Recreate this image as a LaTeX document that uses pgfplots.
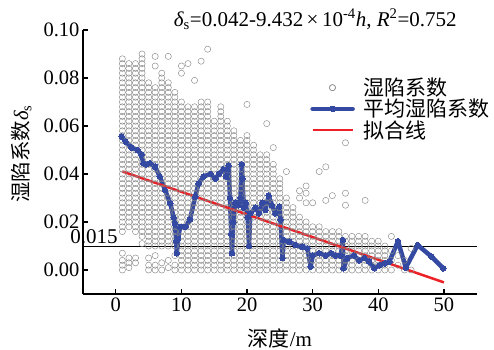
\documentclass[border=0pt]{standalone}
\usepackage{pgfplots}
\pgfplotsset{compat=1.18}
\usepackage{fontspec}
\setmainfont{Liberation Serif}
\newfontfamily\cjk{Noto Sans CJK SC}
\definecolor{meanblue}{RGB}{52,74,162}
\definecolor{fitred}{RGB}{236,32,38}
\definecolor{ptgray}{RGB}{135,135,135}
\begin{document}
\begin{tikzpicture}[font=\fontsize{20bp}{24bp}\selectfont]
\begin{axis}[
  at={(0,0)}, anchor=south west,
  scale only axis, width=393.7bp, height=264bp,
  xmin=-5, xmax=55, ymin=-0.01, ymax=0.10,
  axis x line=bottom, axis y line=left,
  axis line style={line width=1.3pt, -},
  clip=false,
  xtick={0,10,20,30,40,50},
  ytick={0,0.02,0.04,0.06,0.08,0.1},
  scaled y ticks=false,
  tick align=inside, major tick length=5bp,
  tick style={line width=1.3pt, black},
  tick label style={font=\fontsize{20.5bp}{24bp}\selectfont},
  xticklabel style={/pgf/number format/assume math mode=true},
  yticklabel style={/pgf/number format/.cd, fixed, fixed zerofill, precision=2, assume math mode=true},
  ylabel={{\cjk 湿陷系数}{\itshape δ}\textsubscript{s}},
  ylabel style={at={(rel axis cs:-0.157,0.53)}, anchor=center, font=\fontsize{20.5bp}{24bp}\selectfont},
  xlabel={{\cjk 深度}/m},
  xlabel style={at={(rel axis cs:0.5,-0.167)}, anchor=center, font=\fontsize{21bp}{24bp}\selectfont},
  legend image code/.code={\draw[mark repeat=2,mark phase=2,#1] plot coordinates {(0bp,0bp) (20bp,0bp) (40bp,0bp)};},
  legend style={draw=none, fill=none, at={(rel axis cs:0.577,0.826)}, anchor=north west, font=\cjk\fontsize{21bp}{21bp}\selectfont, row sep=-2bp, inner sep=0pt, cells={anchor=west}, /tikz/every odd column/.append style={column sep=7bp}},
]
\addplot[only marks, mark=o, mark size=3.1bp, ptgray, mark options={line width=0.45pt}] coordinates {
(1,0)(1,.002)(1,.004)(1,.007)(1,.016)(1,.018)(1,.02)(1,.022)(1,.024)(1,.026)(1,.028)(1,.03)(1,.032)(1,.034)(1,.036)(1,.038)(1,.04)(1,.042)(1,.044)(1,.046)(1,.048)(1,.05)(1,.052)(1,.054)(1,.056)(1,.058)(1,.06)(1,.062)(1,.064)(1,.066)(1,.068)(1,.07)(1,.072)(1,.074)(1,.076)(1,.078)(1,.08)(1,.082)(1,.084)(1,.086)(1,.088)
(2,.001)(2,.003)(2,.005)(2,.018)(2,.02)(2,.022)(2,.024)(2,.026)(2,.028)(2,.03)(2,.032)(2,.034)(2,.036)(2,.038)(2,.04)(2,.042)(2,.044)(2,.046)(2,.048)(2,.05)(2,.052)(2,.054)(2,.056)(2,.058)(2,.06)(2,.062)(2,.064)(2,.066)(2,.068)(2,.07)(2,.072)(2,.074)(2,.076)(2,.078)(2,.08)(2,.082)(2,.084)(2,.086)
(3,.003)(3,.005)(3,.016)(3,.018)(3,.02)(3,.022)(3,.024)(3,.026)(3,.028)(3,.03)(3,.032)(3,.034)(3,.036)(3,.038)(3,.04)(3,.042)(3,.044)(3,.046)(3,.048)(3,.05)(3,.052)(3,.054)(3,.056)(3,.058)(3,.06)(3,.062)(3,.064)(3,.066)(3,.068)(3,.07)(3,.072)(3,.074)(3,.076)(3,.078)(3,.08)(3,.082)(3,.084)(3,.086)
(4,.011)(4,.014)(4,.016)(4,.018)(4,.02)(4,.022)(4,.024)(4,.026)(4,.028)(4,.03)(4,.032)(4,.034)(4,.036)(4,.038)(4,.04)(4,.042)(4,.044)(4,.046)(4,.048)(4,.05)(4,.052)(4,.054)(4,.056)(4,.058)(4,.06)(4,.062)(4,.064)(4,.066)(4,.068)(4,.07)(4,.072)(4,.074)(4,.076)(4,.078)(4,.08)(4,.082)(4,.084)(4,.086)(4,.088)(4,.09)
(5,0)(5,.002)(5,.005)(5,.01)(5,.012)(5,.014)(5,.016)(5,.018)(5,.02)(5,.022)(5,.024)(5,.026)(5,.028)(5,.03)(5,.032)(5,.034)(5,.036)(5,.038)(5,.04)(5,.042)(5,.044)(5,.046)(5,.048)(5,.05)(5,.052)(5,.054)(5,.056)(5,.058)(5,.06)(5,.062)(5,.064)(5,.066)(5,.068)(5,.07)(5,.072)(5,.074)(5,.076)(5,.078)
(6,0)(6,.002)(6,.006)(6,.01)(6,.012)(6,.014)(6,.016)(6,.018)(6,.02)(6,.022)(6,.024)(6,.026)(6,.028)(6,.03)(6,.032)(6,.034)(6,.036)(6,.038)(6,.04)(6,.042)(6,.044)(6,.046)(6,.048)(6,.05)(6,.052)(6,.054)(6,.056)(6,.058)(6,.06)(6,.062)(6,.064)(6,.066)(6,.068)(6,.07)(6,.072)(6,.074)(6,.076)(6,.085)(6,.089)
(7,0)(7,.003)(7,.01)(7,.012)(7,.014)(7,.016)(7,.018)(7,.02)(7,.022)(7,.024)(7,.026)(7,.028)(7,.03)(7,.032)(7,.034)(7,.036)(7,.038)(7,.04)(7,.042)(7,.044)(7,.046)(7,.048)(7,.05)(7,.052)(7,.054)(7,.056)(7,.058)(7,.06)(7,.062)(7,.064)(7,.066)(7,.068)(7,.07)(7,.072)(7,.074)(7,.076)(7,.078)(7,.08)(7,.082)
(8,.001)(8,.004)(8,.01)(8,.012)(8,.014)(8,.016)(8,.018)(8,.02)(8,.022)(8,.024)(8,.026)(8,.028)(8,.03)(8,.032)(8,.034)(8,.036)(8,.038)(8,.04)(8,.042)(8,.044)(8,.046)(8,.048)(8,.05)(8,.052)(8,.054)(8,.056)(8,.058)(8,.06)(8,.062)(8,.064)(8,.066)(8,.068)(8,.07)(8,.072)(8,.074)(8,.076)(8,.078)(8,.089)
(9,0)(9,.002)(9,.006)(9,.01)(9,.012)(9,.014)(9,.016)(9,.018)(9,.02)(9,.022)(9,.024)(9,.026)(9,.028)(9,.03)(9,.032)(9,.034)(9,.036)(9,.038)(9,.04)(9,.042)(9,.044)(9,.046)(9,.048)(9,.05)(9,.052)(9,.054)(9,.056)(9,.058)(9,.06)(9,.062)(9,.064)(9,.066)(9,.068)(9,.07)(9,.072)(9,.074)
(10,0)(10,.002)(10,.004)(10,.006)(10,.008)(10,.01)(10,.012)(10,.014)(10,.016)(10,.018)(10,.02)(10,.022)(10,.024)(10,.026)(10,.028)(10,.03)(10,.032)(10,.034)(10,.036)(10,.038)(10,.04)(10,.042)(10,.044)(10,.046)(10,.048)(10,.05)(10,.052)(10,.054)(10,.056)(10,.058)(10,.06)(10,.062)(10,.064)(10,.066)(10,.068)(10,.07)(10,.082)(10,.085)
(11,0)(11,.002)(11,.004)(11,.006)(11,.008)(11,.01)(11,.012)(11,.014)(11,.016)(11,.018)(11,.02)(11,.022)(11,.024)(11,.026)(11,.028)(11,.03)(11,.032)(11,.034)(11,.036)(11,.038)(11,.04)(11,.042)(11,.044)(11,.046)(11,.048)(11,.05)(11,.052)(11,.054)(11,.056)(11,.058)(11,.06)(11,.062)(11,.064)(11,.066)(11,.068)(11,.086)
(12,0)(12,.002)(12,.004)(12,.006)(12,.008)(12,.01)(12,.012)(12,.014)(12,.016)(12,.018)(12,.02)(12,.022)(12,.024)(12,.026)(12,.028)(12,.03)(12,.032)(12,.034)(12,.036)(12,.038)(12,.04)(12,.042)(12,.044)(12,.046)(12,.048)(12,.05)(12,.052)(12,.054)(12,.056)(12,.058)(12,.06)(12,.062)(12,.064)(12,.066)(12,.068)(12,.079)
(13,0)(13,.002)(13,.004)(13,.006)(13,.008)(13,.01)(13,.012)(13,.014)(13,.016)(13,.018)(13,.02)(13,.022)(13,.024)(13,.026)(13,.028)(13,.03)(13,.032)(13,.034)(13,.036)(13,.038)(13,.04)(13,.042)(13,.044)(13,.046)(13,.048)(13,.05)(13,.052)(13,.054)(13,.056)(13,.058)(13,.06)(13,.062)(13,.064)(13,.066)(13,.068)(13,.07)(13,.087)
(14,0)(14,.002)(14,.004)(14,.006)(14,.008)(14,.01)(14,.012)(14,.014)(14,.016)(14,.018)(14,.02)(14,.022)(14,.024)(14,.026)(14,.028)(14,.03)(14,.032)(14,.034)(14,.036)(14,.038)(14,.04)(14,.042)(14,.044)(14,.046)(14,.048)(14,.05)(14,.052)(14,.054)(14,.056)(14,.058)(14,.06)(14,.062)(14,.064)(14,.066)(14,.068)(14,.07)(14,.092)
(15,0)(15,.002)(15,.004)(15,.006)(15,.008)(15,.01)(15,.012)(15,.014)(15,.016)(15,.018)(15,.02)(15,.022)(15,.024)(15,.026)(15,.028)(15,.03)(15,.032)(15,.034)(15,.036)(15,.038)(15,.04)(15,.042)(15,.044)(15,.046)(15,.048)(15,.05)(15,.052)(15,.054)(15,.056)(15,.058)(15,.06)(15,.062)
(16,0)(16,.002)(16,.004)(16,.006)(16,.008)(16,.01)(16,.012)(16,.014)(16,.016)(16,.018)(16,.02)(16,.022)(16,.024)(16,.026)(16,.028)(16,.03)(16,.032)(16,.034)(16,.036)(16,.038)(16,.04)(16,.042)(16,.044)(16,.046)(16,.048)(16,.05)(16,.052)(16,.054)(16,.056)(16,.058)(16,.06)(16,.062)(16,.064)(16,.066)(16,.068)
(17,0)(17,.002)(17,.004)(17,.006)(17,.008)(17,.01)(17,.012)(17,.014)(17,.016)(17,.018)(17,.02)(17,.022)(17,.024)(17,.026)(17,.028)(17,.03)(17,.032)(17,.034)(17,.036)(17,.038)(17,.04)(17,.042)(17,.044)(17,.046)(17,.048)(17,.05)(17,.052)(17,.054)(17,.056)(17,.058)(17,.06)(17,.062)
(18,0)(18,.002)(18,.004)(18,.006)(18,.008)(18,.01)(18,.012)(18,.014)(18,.016)(18,.018)(18,.02)(18,.022)(18,.024)(18,.026)(18,.028)(18,.03)(18,.032)(18,.034)(18,.036)(18,.038)(18,.04)(18,.042)(18,.044)(18,.046)(18,.048)(18,.05)(18,.052)(18,.054)(18,.056)(18,.058)
(19,0)(19,.002)(19,.004)(19,.006)(19,.008)(19,.01)(19,.012)(19,.014)(19,.016)(19,.018)(19,.02)(19,.022)(19,.024)(19,.026)(19,.028)(19,.03)(19,.032)(19,.034)(19,.036)(19,.038)(19,.04)(19,.042)(19,.044)(19,.046)(19,.048)(19,.05)(19,.052)(19,.054)
(20,0)(20,.002)(20,.004)(20,.006)(20,.008)(20,.01)(20,.012)(20,.014)(20,.016)(20,.018)(20,.02)(20,.022)(20,.024)(20,.026)(20,.028)(20,.03)(20,.032)(20,.034)(20,.036)(20,.038)(20,.04)(20,.042)(20,.044)(20,.046)(20,.048)(20,.05)(20,.052)(20,.054)(20,.056)(20,.069)
(21,0)(21,.002)(21,.004)(21,.006)(21,.008)(21,.01)(21,.012)(21,.014)(21,.016)(21,.018)(21,.02)(21,.022)(21,.024)(21,.026)(21,.028)(21,.03)(21,.032)(21,.034)(21,.036)(21,.038)(21,.04)(21,.042)(21,.044)(21,.046)(21,.048)(21,.05)(21,.052)
(22,0)(22,.002)(22,.004)(22,.006)(22,.008)(22,.01)(22,.012)(22,.014)(22,.016)(22,.018)(22,.02)(22,.022)(22,.024)(22,.026)(22,.028)(22,.03)(22,.032)(22,.034)(22,.036)(22,.038)(22,.04)(22,.042)(22,.044)(22,.046)(22,.048)
(23,0)(23,.002)(23,.004)(23,.006)(23,.008)(23,.01)(23,.012)(23,.014)(23,.016)(23,.018)(23,.02)(23,.022)(23,.024)(23,.026)(23,.028)(23,.03)(23,.032)(23,.034)(23,.036)(23,.038)(23,.04)(23,.042)(23,.044)(23,.046)(23,.048)(23,.061)
(24,0)(24,.002)(24,.004)(24,.006)(24,.008)(24,.01)(24,.012)(24,.014)(24,.016)(24,.018)(24,.02)(24,.022)(24,.024)(24,.026)(24,.028)(24,.03)(24,.032)(24,.034)(24,.036)(24,.038)(24,.04)(24,.042)(24,.044)(24,.051)
(25,0)(25,.002)(25,.004)(25,.006)(25,.008)(25,.01)(25,.012)(25,.014)(25,.016)(25,.018)(25,.02)(25,.022)(25,.024)(25,.026)(25,.028)(25,.03)(25,.032)(25,.034)(25,.036)(25,.038)
(26,0)(26,.002)(26,.004)(26,.006)(26,.008)(26,.01)(26,.012)(26,.014)(26,.016)(26,.018)(26,.02)(26,.022)(26,.024)(26,.026)(26,.028)(26,.03)(26,.041)
(27,0)(27,.002)(27,.004)(27,.006)(27,.008)(27,.01)(27,.012)(27,.014)(27,.016)(27,.018)(27,.02)(27,.022)(27,.024)(27,.026)
(28,0)(28,.002)(28,.004)(28,.006)(28,.008)(28,.01)(28,.012)(28,.014)(28,.016)(28,.018)(28,.02)(28,.022)(28,.03)(28,.033)
(29,0)(29,.002)(29,.004)(29,.006)(29,.008)(29,.01)(29,.012)(29,.014)(29,.016)(29,.018)(29,.02)(29,.028)(29,.032)(29,.035)
(30,0)(30,.002)(30,.004)(30,.006)(30,.008)(30,.01)(30,.012)(30,.014)(30,.016)(30,.018)(30,.028)
(31,0)(31,.002)(31,.004)(31,.006)(31,.008)(31,.01)(31,.012)(31,.014)(31,.016)(31,.018)(31,.041)
(32,0)(32,.002)(32,.004)(32,.006)(32,.008)(32,.01)(32,.012)(32,.014)(32,.016)(32,.029)(32,.043)
(33,0)(33,.002)(33,.004)(33,.006)(33,.008)(33,.01)(33,.012)(33,.014)(33,.016)(33,.031)(33,.076)
(34,0)(34,.002)(34,.004)(34,.006)(34,.008)(34,.01)(34,.012)(34,.014)(34,.016)
(35,0)(35,.002)(35,.004)(35,.006)(35,.008)(35,.01)(35,.012)(35,.014)(35,.027)(35,.032)(35,.053)
(36,0)(36,.002)(36,.004)(36,.006)(36,.008)(36,.01)(36,.012)(36,.014)
(37,0)(37,.002)(37,.004)(37,.006)(37,.008)(37,.01)(37,.012)(37,.014)
(38,0)(38,.002)(38,.004)(38,.006)(38,.008)(38,.01)(38,.012)(38,.014)(38,.029)
(39,0)(39,.002)(39,.004)(39,.006)(39,.008)(39,.01)(39,.012)
(40,0)(40,.002)(40,.004)(40,.006)(40,.008)(40,.01)(40,.012)
(41,0)(41,.002)(41,.004)(41,.006)(41,.008)(41,.01)
(42,0)(42,.004)(42,.008)(42,.014)
(43,.002)(43,.006)(44,0)(44,.004)(45,0)(45,.009)
};
\addlegendentry{湿陷系数}
\draw[black, line width=1pt] (axis cs:-5,0.01) -- (axis cs:55,0.01);
\addplot[meanblue, line width=4.5bp, line join=round, line cap=round, mark=*, mark size=2.8bp, mark options={line width=0pt}] coordinates {
(0.9,.0556)(1.5,.0535)(2.4,.0510)(3.3,.0500)(3.9,.0480)(4.2,.0445)(4.6,.0440)(5.2,.0445)(6.0,.0430)(6.7,.0390)(7.5,.0333)(8.3,.0278)(8.8,.0220)(9.0,.0195)(9.2,.0120)(9.3,.0070)(9.5,.0130)(9.8,.0180)(10.6,.0180)(11.3,.0210)(12.1,.0305)(12.6,.0360)(13.4,.0390)(14.4,.0400)(15.2,.0380)(15.7,.0400)(16.4,.0420)(16.8,.0390)(17.0,.0420)(17.2,.0435)(17.4,.0300)(17.6,.0150)(17.7,.0070)(17.9,.0200)(18.2,.0280)(18.7,.0270)(19.0,.0300)(19.2,.0440)(19.3,.0380)(19.5,.0260)(19.8,.0280)(20.1,.0220)(20.3,.0100)(20.5,.0236)(21.3,.0260)(21.8,.0236)(22.3,.0280)(22.8,.0250)(23.3,.0310)(23.8,.0270)(24.3,.0236)(24.9,.0264)(25.1,.0210)(25.4,.0050)(25.6,.0125)(26.4,.0118)(27.4,.0104)(28.4,.0097)(29.2,.0090)(29.7,.0014)(30.0,.0060)(31.0,.0070)(32.0,.0060)(32.8,.0070)(33.5,.0060)(34.3,.0060)(34.6,.0125)(34.7,.0007)(35.3,.0050)(36.3,.0060)(37.1,.0040)(37.9,.0050)(38.6,.0035)(39.4,.0007)(40.2,.0020)(41.0,.0028)(41.7,.0035)(43.0,.0120)(44.2,.0010)(46.0,.0104)(48.1,.0056)(49.9,.0007)
};
\addlegendentry{平均湿陷系数}
\addplot[fitred, line width=2.5bp] coordinates {(1,0.04106) (50,-0.00516)};
\addlegendentry{拟合线}
\node[anchor=east, inner sep=0pt] at (axis cs:0.3,0.0137) {\fontsize{21bp}{24bp}\selectfont 0.015};
\node[anchor=center, inner sep=0pt] at (axis cs:30.4,0.1045) {\fontsize{21bp}{24bp}\selectfont{\itshape δ}\textsubscript{s}=0.042-9.432\,×\,10\textsuperscript{-4}{\itshape h}, {\itshape R}\textsuperscript{2}=0.752};
\end{axis}
\pgfresetboundingbox
\path (-83bp,-56bp) rectangle (411bp,294bp);
\end{tikzpicture}
\end{document}
